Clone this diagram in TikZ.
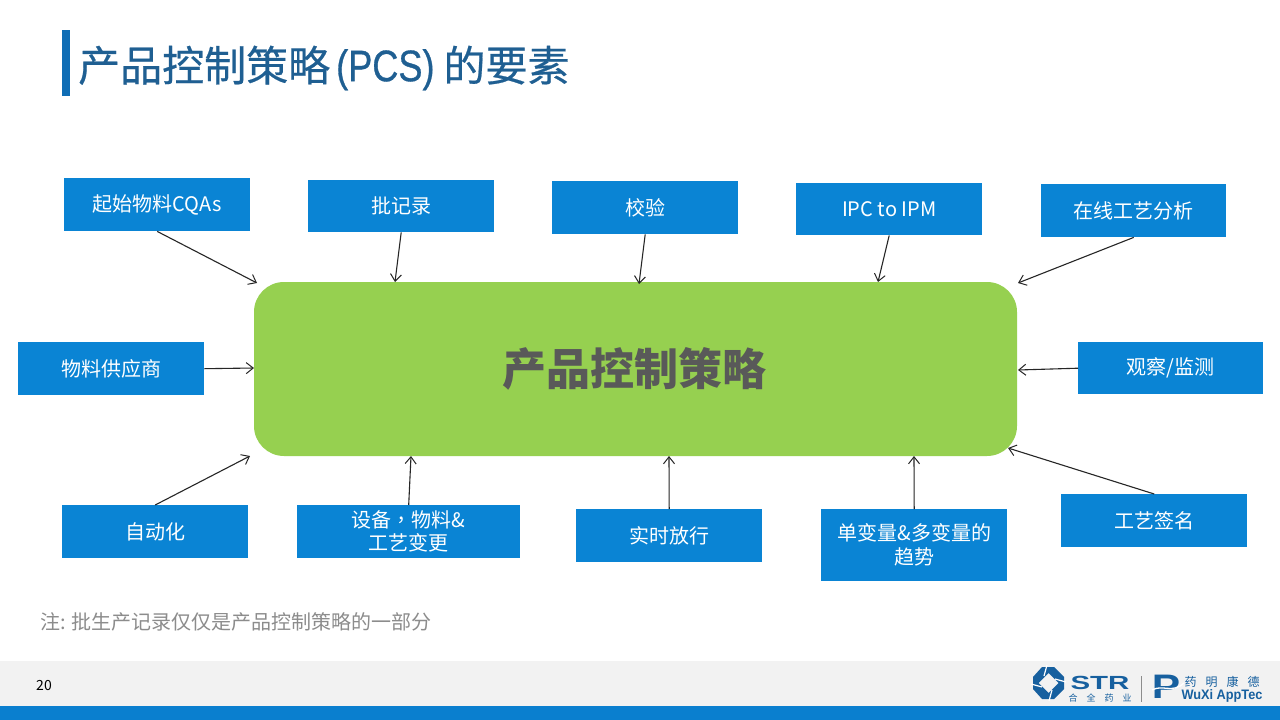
\documentclass[tikz,border=0pt]{standalone}
\usepackage{fontspec}
\setmainfont{Noto Sans CJK SC}
\newfontfamily\tcfont{Noto Sans CJK TC}
\newfontfamily\latinf{Liberation Sans}
\newfontfamily\titlef[FakeBold=0.5]{Noto Sans CJK SC}
\newfontfamily\titlelatin[FakeBold=0.8]{Liberation Sans}
\usetikzlibrary{arrows.meta}
\definecolor{boxblue}{HTML}{0A84D4}
\definecolor{maingreen}{HTML}{96D050}
\definecolor{titleblue}{HTML}{1F5F92}
\definecolor{barblue}{HTML}{0F6DB5}
\definecolor{logoblue}{HTML}{17609F}
\definecolor{stripblue}{HTML}{0A7FCF}
\newcommand{\fs}[1]{\fontsize{#1}{#1}\selectfont}
\tikzset{
  x=1pt,y=-1pt,
  bluebox/.style={fill=boxblue,text=white,inner sep=0pt,align=center,anchor=north west,font=\fs{20}},
  link/.style={draw=black!85,line width=1.1pt,-{Straight Barb[length=7pt,width=11pt,line width=1pt]}},
  plain/.style={inner sep=0pt,anchor=center},
}
\begin{document}
\begin{tikzpicture}
\useasboundingbox (0,0) rectangle (1280,720);
\fill[white] (0,0) rectangle (1280,720);
% footer
\fill[black!5] (0,661) rectangle (1280,706);
\fill[stripblue] (0,706) rectangle (1280,720);
% title
\fill[barblue] (62,30) rectangle (70,96);
\node[plain,anchor=west,text=titleblue,font=\fs{42}\titlef] (title) at (78,68) {产品控制策略\hspace{6pt}{\titlelatin\fs{42}\scalebox{0.86}[1.05]{(PCS)}}\hspace{9pt}的要素};
% main
\node[fill=maingreen,rounded corners=30pt,minimum width=763pt,minimum height=174pt,inner sep=0pt,text=black!65,font=\fs{44}\bfseries] (main) at (635.5,369) {\hspace{-2pt}产品控制策略};
% boxes
\node[bluebox,minimum width=186pt,minimum height=53pt] (b1) at (64,178) {起始物料CQAs};
\node[bluebox,minimum width=186pt,minimum height=52pt] (b2) at (308,180) {批记录};
\node[bluebox,minimum width=186pt,minimum height=53pt] (b3) at (552,181) {校验};
\node[bluebox,minimum width=186pt,minimum height=52pt] (b4) at (796,183) {IPC to IPM};
\node[bluebox,minimum width=185pt,minimum height=53pt] (b5) at (1041,184) {在线工艺分析};
\node[bluebox,minimum width=186pt,minimum height=53pt] (b6) at (18,342) {物料供应商};
\node[bluebox,minimum width=185pt,minimum height=52pt] (b7) at (1078,342) {观察/监测};
\node[bluebox,minimum width=186pt,minimum height=53pt] (b8) at (62,505) {自动化};
\node[bluebox,minimum width=223pt,minimum height=53pt] (b9) at (297,505) {设备{\tcfont ，}物料\&\\[3pt]工艺变更};
\node[bluebox,minimum width=186pt,minimum height=53pt] (b10) at (576,509) {实时放行};
\node[bluebox,minimum width=186pt,minimum height=72pt] (b11) at (821,509) {单变量\&多变量的\\[4pt]趋势};
\node[bluebox,minimum width=186pt,minimum height=53pt] (b12) at (1061,494) {工艺签名};
% arrow ends on the main block
\coordinate (e1) at (257,283);
\coordinate (e2) at (395,282);
\coordinate (e3) at (639,284);
\coordinate (e4) at (878,282);
\coordinate (e5) at (1018,283);
\coordinate (e6) at (254,368);
\coordinate (e7) at (1018,370);
\coordinate (e8) at (250,456);
\coordinate (e9) at (411,456);
\coordinate (e10) at (669,456);
\coordinate (e11) at (914,456);
\coordinate (e12) at (1008,448);
\draw[link] (b1.south) -- (e1);
\draw[link] (b2.south) -- (e2);
\draw[link] (b3.south) -- (e3);
\draw[link] (b4.south) -- (e4);
\draw[link] (b5.south) -- (e5);
\draw[link] (b6.east) -- (e6);
\draw[link] (b7.west) -- (e7);
\draw[link] (b8.north) -- (e8);
\draw[link] (b9.north) -- (e9);
\draw[link] (b10.north) -- (e10);
\draw[link] (b11.north) -- (e11);
\draw[link] (b12.north) -- (e12);
% note and page
\node[plain,anchor=west,text=black!45,font=\fs{20}] (note) at (40,622) {注: 批生产记录仅仅是产品控制策略的一部分};
\node[plain,font=\fs{14}] (page) at (44,686) {20};
% logo STR
\fill[logoblue,even odd rule] (1042,667) -- (1054,667) -- (1064,677) -- (1064,689) -- (1054,699) -- (1042,699) -- (1033,689) -- (1033,677) -- cycle
  (1048.5,673) -- (1058.5,683) -- (1048.5,693) -- (1038.5,683) -- cycle;
\draw[white,line width=1.2pt] (1047,665) -- (1044,676) (1066,682) -- (1055,679) (1049,701) -- (1052,690) (1031,684) -- (1042,687);
\node[plain,text=logoblue,font=\fs{19}\latinf\bfseries] (str) at (1100,683) {\scalebox{1.55}[1]{STR}};
\node[plain,text=logoblue,font=\fs{9}] (hq) at (1100,698.5) {合\hspace{9pt}全\hspace{9pt}药\hspace{9pt}业};
\draw[black!45,line width=0.7pt] (1141,676) -- (1141,702);
\node[plain,text=logoblue,font=\fs{34}\latinf\bfseries] (pmark) at (1166,687) {\scalebox{1.25}[1]{P}};
\draw[white,line width=1.3pt] (1152,690) .. controls (1163,684) and (1172,694) .. (1184,683);
\node[plain,text=logoblue,font=\fs{12}] (ymkd) at (1222,682) {药\hspace{9pt}明\hspace{9pt}康\hspace{9pt}德};
\node[plain,text=logoblue,font=\fs{12.5}\latinf\bfseries] (wx) at (1222,696) {\scalebox{1.02}[1.1]{WuXi AppTec}};
\end{tikzpicture}
\end{document}
